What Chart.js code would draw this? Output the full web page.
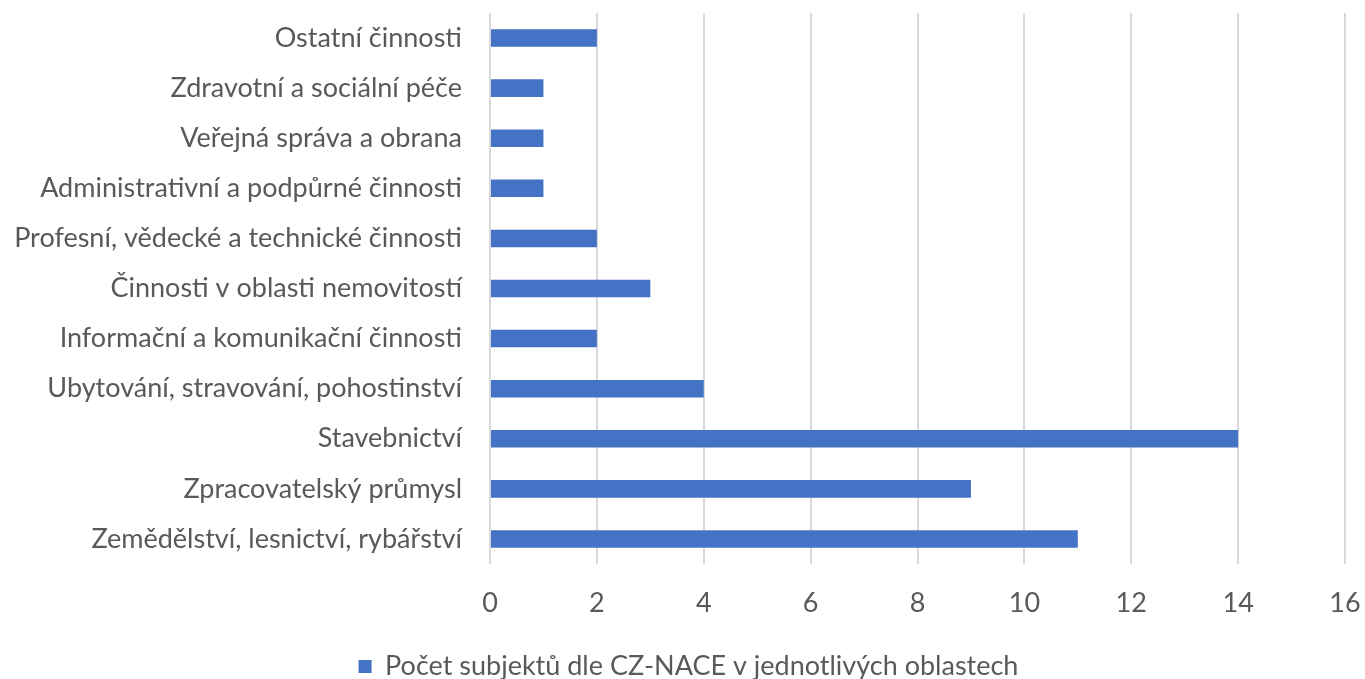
<!DOCTYPE html>
<html><head><meta charset="utf-8">
<script src="https://cdn.jsdelivr.net/npm/chart.js@4"></script>
<style>html,body{margin:0;padding:0;background:#fff}#wrap{width:1365px;height:679px}</style>
</head><body><div id="wrap"><canvas id="c"></canvas></div>
<script>
const categories = [
  "Ostatní činnosti",
  "Zdravotní a sociální péče",
  "Veřejná správa a obrana",
  "Administrativní a podpůrné činnosti",
  "Profesní, vědecké a technické činnosti",
  "Činnosti v oblasti nemovitostí",
  "Informační a komunikační činnosti",
  "Ubytování, stravování, pohostinství",
  "Stavebnictví",
  "Zpracovatelský průmysl",
  "Zemědělství, lesnictví, rybářství"
];
const seriesName = "Počet subjektů dle CZ-NACE v jednotlivých oblastech";
const values = [2, 1, 1, 1, 2, 3, 2, 4, 14, 9, 11];
const xTicks = [0, 2, 4, 6, 8, 10, 12, 14, 16];

const FONT = "Lato";
const FS = 27;
const PADL = 12;
new Chart(document.getElementById('c'), {
  type: 'bar',
  data: {
    labels: categories,
    datasets: [{
      label: seriesName,
      data: values,
      backgroundColor: '#4472C4',
      borderWidth: 0,
      categoryPercentage: 0.7,
      barPercentage: 0.5
    }]
  },
  options: {
    indexAxis: 'y',
    responsive: true,
    maintainAspectRatio: false,
    animation: false,
    layout: { padding: { left: PADL, right: 0, top: 0, bottom: -11 } },
    plugins: {
      tooltip: { enabled: false },
      legend: {
        position: 'bottom',
        labels: {
          color: '#595959',
          font: { family: FONT, size: FS },
          boxWidth: 13, boxHeight: 13,
          padding: 4
        }
      }
    },
    scales: {
      x: {
        min: 0, max: 16,
        afterBuildTicks: (s) => { s.ticks = xTicks.map(v => ({ value: v })); },
        grid: { color: '#D9D9D9', lineWidth: 2, drawTicks: false },
        border: { display: false },
        ticks: { color: '#595959', font: { family: FONT, size: FS }, padding: 23 },
        afterFit: (s) => { s.height = 85; s.paddingRight = 20; s.paddingLeft = 0; }
      },
      y: {
        grid: { display: false, drawTicks: false },
        border: { display: false },
        ticks: { color: '#595959', font: { family: FONT, size: FS }, padding: 28, autoSkip: false },
        afterFit: (s) => { s.width = 490 - PADL; s.paddingTop = 13; s.paddingBottom = 0; }
      }
    }
  }
});
</script>
</body></html>
